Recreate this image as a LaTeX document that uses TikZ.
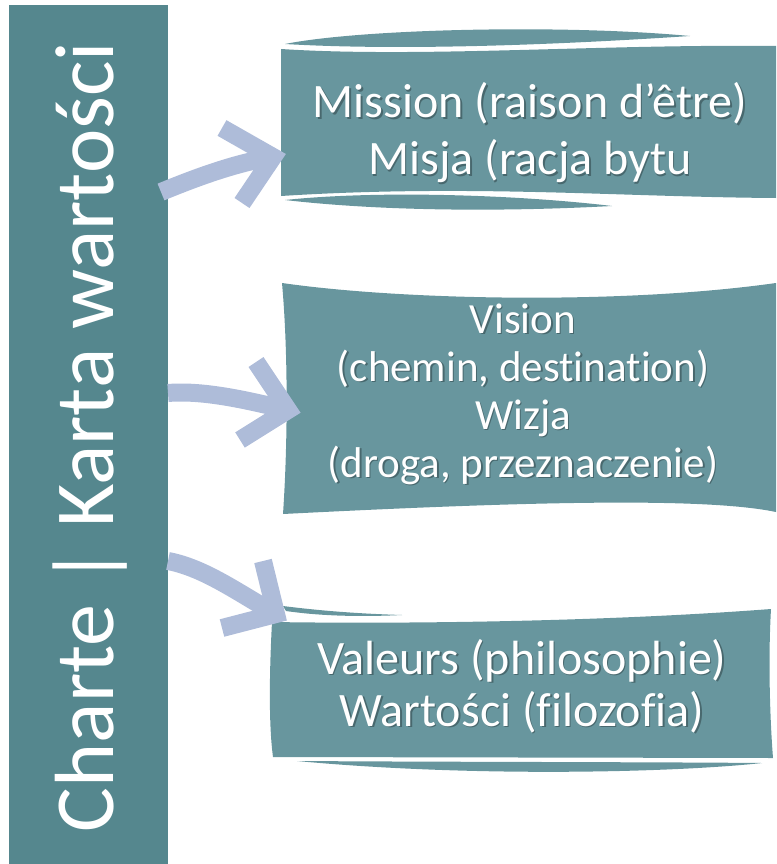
\documentclass[tikz,border=0pt]{standalone}
\usepackage{fontspec}
\setmainfont{Carlito}[Ligatures=NoCommon]
\definecolor{barteal}{HTML}{55878E}
\definecolor{boxteal}{HTML}{68969E}
\definecolor{arrowblue}{HTML}{AEBCD9}
\tikzset{
  flag/.style={fill=boxteal},
  shaft/.style={draw=arrowblue, line width=18pt},
  barb/.style={draw=arrowblue, line width=18pt, line join=miter},
  boxtext/.style={text=white, align=center, inner sep=0pt},
  boxshade/.style={boxtext, text=black, opacity=.3, xshift=1.5pt, yshift=-1.5pt},
}
\begin{document}
\begin{tikzpicture}[x=1pt, y=-1pt]
  \useasboundingbox (0,0) rectangle (776,864);

  % left bar
  \fill[barteal] (9,5) rectangle (168,864);
  \node[boxtext, rotate=90, anchor=base, font=\fontsize{84}{100}\selectfont]
    (charte) at (113,437) {Charte | Karta wartości};

  % mission flag
  \fill[flag] (281,49) .. controls (420,58) and (600,44) .. (776,46)
    -- (776,198) .. controls (620,197) and (470,184) .. (281,196) -- cycle;
  \fill[flag] (285,44) .. controls (360,29) and (560,24) .. (690,36)
    .. controls (600,42) and (420,52) .. cycle;
  \fill[flag] (285,200) .. controls (380,190) and (520,195) .. (612,206)
    .. controls (500,212) and (380,211) .. cycle;

  % vision flag
  \fill[flag] (282,283) .. controls (400,300) and (620,305) .. (776,283)
    -- (776,512) .. controls (700,496) and (500,503) .. (283,514)
    .. controls (288,440) and (288,350) .. cycle;

  % valeurs flag
  \fill[flag] (272,622) .. controls (400,624) and (600,622) .. (771,609)
    .. controls (768,660) and (770,720) .. (773,758)
    -- (273,757) .. controls (268,720) and (270,660) .. cycle;
  \fill[flag] (283,606) .. controls (330,612) and (370,614) .. (402,615)
    .. controls (360,617) and (320,616) .. (286,611) -- cycle;
  \fill[flag] (297,761) .. controls (450,762) and (650,762) .. (762,763)
    .. controls (680,772) and (480,778) .. cycle;

  % texts, with their shadows
  \node[boxshade, font=\fontsize{48}{57}\selectfont] (mission shade) at (530,133)
    {Mission (raison d’être)\\Misja (racja bytu};
  \node[boxtext, font=\fontsize{48}{57}\selectfont] (mission) at (530,133)
    {Mission (raison d’être)\\Misja (racja bytu};
  \node[boxshade, font=\fontsize{43}{48}\selectfont] (vision shade) at (523,394)
    {Vision\\(chemin, destination)\\Wizja\\(droga, przeznaczenie)};
  \node[boxtext, font=\fontsize{43}{48}\selectfont] (vision) at (523,394)
    {Vision\\(chemin, destination)\\Wizja\\(droga, przeznaczenie)};
  \node[boxshade, font=\fontsize{48}{52}\selectfont] (valeurs shade) at (522,686)
    {Valeurs (philosophie)\\Wartości (filozofia)};
  \node[boxtext, font=\fontsize{48}{52}\selectfont] (valeurs) at (522,686)
    {Valeurs (philosophie)\\Wartości (filozofia)};

  % arrows
  \coordinate (tail1) at (161,192); \coordinate (ca1) at (195,178);
  \coordinate (cb1) at (235,163);   \coordinate (tip1) at (273,157);
  \coordinate (up1) at (222,128);   \coordinate (low1) at (242,203);
  \coordinate (tail2) at (168,393); \coordinate (ca2) at (205,390);
  \coordinate (cb2) at (250,401);   \coordinate (tip2) at (288,410);
  \coordinate (up2) at (256,362);   \coordinate (low2) at (240,440);
  \coordinate (tail3) at (168,561); \coordinate (ca3) at (205,568);
  \coordinate (cb3) at (240,594);   \coordinate (tip3) at (276,614);
  \coordinate (up3) at (263,561);   \coordinate (low3) at (222,628);
  \foreach \i in {1,2,3}{
    \draw[shaft] (tail\i) .. controls (ca\i) and (cb\i) .. (tip\i);
    \draw[barb] (up\i) -- (tip\i) -- (low\i);
  }
\end{tikzpicture}
\end{document}
